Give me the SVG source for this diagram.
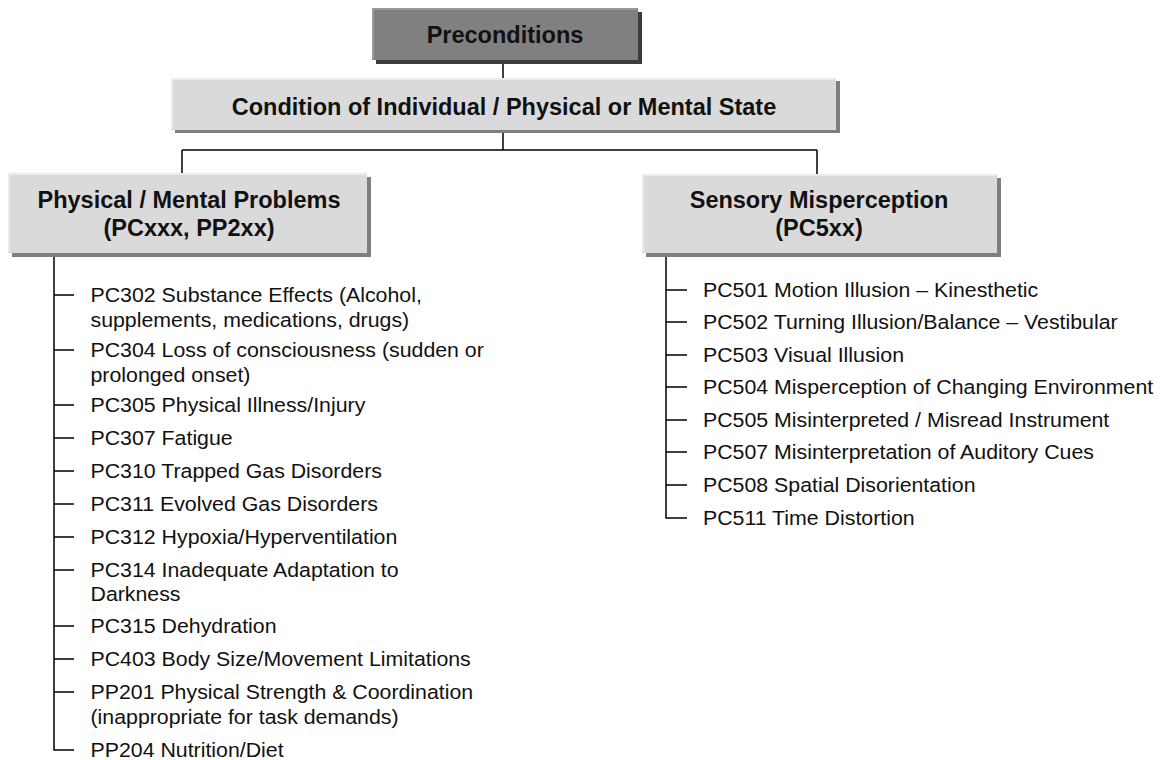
<svg xmlns="http://www.w3.org/2000/svg" width="1163" height="760" viewBox="0 0 1163 760">
<style>
.sh{fill:#7f7f7f}
.shd{fill:#3c3c3c}
.box{fill:#dadada}
.boxd{fill:#808080}
.hl{fill:none;stroke:#ececec;stroke-width:2}
.hld{fill:none;stroke:#9a9a9a;stroke-width:2}
.t{font-family:"Liberation Sans",Arial,sans-serif;font-weight:bold;font-size:23.5px;fill:#111;text-anchor:middle}
.i{font-family:"Liberation Sans",Arial,sans-serif;font-size:20.5px;fill:#111}
.ln{fill:none;stroke:#000;stroke-width:1.5}
</style>
<rect width="1163" height="760" fill="#fff"/>
<g id="connectors">
<path class="ln" d="M503 62V78M503 131V150M182 150H817M182 150V173M817 150V175"/>
<path class="ln" d="M54 254V750H74M54 295H74M54 350H74M54 405H74M54 438H74M54 471H74M54 504H74M54 537H74M54 570H74M54 626H74M54 659H74M54 692H74"/>
<path class="ln" d="M666 254V518H687M666 290H687M666 322H687M666 355H687M666 387H687M666 420H687M666 452H687M666 485H687"/>
</g>
<g id="preconditions">
<rect class="shd" x="376" y="12" width="266" height="52"/>
<rect class="boxd" x="372" y="8" width="266" height="52"/>
<path class="hld" d="M373 59V9H637"/>
<text class="t" x="505" y="43">Preconditions</text>
</g>
<g id="condition">
<rect class="sh" x="175" y="81" width="665" height="52"/>
<rect class="box" x="171" y="78" width="665" height="52"/>
<path class="hl" d="M172 129V79H835"/>
<text class="t" x="504" y="115">Condition of Individual / Physical or Mental State</text>
</g>
<g id="physical">
<rect class="sh" x="12" y="177" width="359" height="80"/>
<rect class="box" x="8" y="173" width="359" height="80"/>
<path class="hl" d="M9 252V174H366"/>
<text class="t" x="189" y="207.5">Physical / Mental Problems</text>
<text class="t" x="189" y="236">(PCxxx, PP2xx)</text>
</g>
<g id="sensory">
<rect class="sh" x="646" y="178" width="355" height="79"/>
<rect class="box" x="642" y="174" width="355" height="79"/>
<path class="hl" d="M643 252V175H996"/>
<text class="t" x="819" y="207.5">Sensory Misperception</text>
<text class="t" x="819" y="236">(PC5xx)</text>
</g>
<g id="physical-items" class="i" transform="translate(90.5 0) scale(1.04 1)">
<text x="0" y="302">PC302 Substance Effects (Alcohol,</text>
<text x="0" y="327">supplements, medications, drugs)</text>
<text x="0" y="357">PC304 Loss of consciousness (sudden or</text>
<text x="0" y="382">prolonged onset)</text>
<text x="0" y="412">PC305 Physical Illness/Injury</text>
<text x="0" y="445">PC307 Fatigue</text>
<text x="0" y="478">PC310 Trapped Gas Disorders</text>
<text x="0" y="511">PC311 Evolved Gas Disorders</text>
<text x="0" y="544">PC312 Hypoxia/Hyperventilation</text>
<text x="0" y="577">PC314 Inadequate Adaptation to</text>
<text x="0" y="601">Darkness</text>
<text x="0" y="633">PC315 Dehydration</text>
<text x="0" y="666">PC403 Body Size/Movement Limitations</text>
<text x="0" y="699">PP201 Physical Strength &amp; Coordination</text>
<text x="0" y="724">(inappropriate for task demands)</text>
<text x="0" y="757">PP204 Nutrition/Diet</text>
</g>
<g id="sensory-items" class="i" transform="translate(703 0) scale(1.04 1)">
<text x="0" y="297">PC501 Motion Illusion – Kinesthetic</text>
<text x="0" y="329">PC502 Turning Illusion/Balance – Vestibular</text>
<text x="0" y="362">PC503 Visual Illusion</text>
<text x="0" y="394">PC504 Misperception of Changing Environment</text>
<text x="0" y="427">PC505 Misinterpreted / Misread Instrument</text>
<text x="0" y="459">PC507 Misinterpretation of Auditory Cues</text>
<text x="0" y="492">PC508 Spatial Disorientation</text>
<text x="0" y="525">PC511 Time Distortion</text>
</g>
</svg>
